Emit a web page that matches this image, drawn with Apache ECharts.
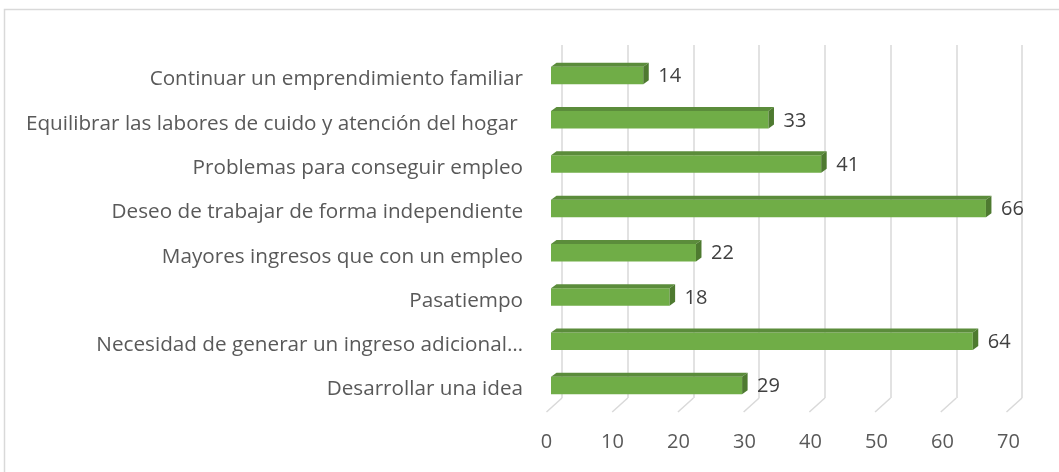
<!DOCTYPE html>
<html>
<head>
<meta charset="utf-8">
<style>
  html, body { margin: 0; padding: 0; background: #fff; }
  #chart { width: 1059px; height: 472px; }
</style>
<script src="https://cdn.jsdelivr.net/npm/echarts@6/dist/echarts.min.js"></script>
</head>
<body>
<div id="chart"></div>
<script>
const categories = [
  'Continuar un emprendimiento familiar',
  'Equilibrar las labores de cuido y atención del hogar ',
  'Problemas para conseguir empleo',
  'Deseo de trabajar de forma independiente',
  'Mayores ingresos que con un empleo',
  'Pasatiempo',
  'Necesidad de generar un ingreso adicional…',
  'Desarrollar una idea'
];
const values = [14, 33, 41, 66, 22, 18, 64, 29];
const ticks = [0, 10, 20, 30, 40, 50, 60, 70];

const font = '"Open Sans", sans-serif';
const depthX = 5.5;
const depthY = 4;

let chart = echarts.init(document.getElementById('chart'));

function renderBar(params, api) {
  const idx = api.value(1);
  const end = api.coord([api.value(0), idx]);
  const start = api.coord([0, idx]);
  const h = api.size([0, 1])[1] * 0.395;
  const x0 = start[0];
  const x1 = end[0];
  const y0 = end[1] - h / 2;
  return {
    type: 'group',
    children: [
      {
        type: 'rect',
        shape: { x: x0, y: y0, width: x1 - x0, height: h },
        style: { fill: '#70AD47' }
      },
      {
        type: 'polygon',
        shape: { points: [[x0, y0], [x0 + depthX, y0 - depthY], [x1 + depthX, y0 - depthY], [x1, y0]] },
        style: { fill: '#5B8C3B' }
      },
      {
        type: 'polygon',
        shape: { points: [[x1, y0], [x1 + depthX, y0 - depthY], [x1 + depthX, y0 + h - depthY], [x1, y0 + h]] },
        style: { fill: '#4E7A30' }
      },
      {
        type: 'text',
        style: {
          x: x1 + 15, y: end[1] + 1,
          text: String(api.value(0)),
          fill: '#404040',
          font: '20px ' + font,
          verticalAlign: 'middle',
          align: 'left'
        }
      }
    ]
  };
}

function renderFloor(params, api) {
  const p = api.coord([api.value(0), 0]);
  return {
    type: 'line',
    shape: { x1: p[0], y1: p[1], x2: p[0] - 15.5, y2: p[1] + 14 },
    style: { stroke: '#d9d9d9', lineWidth: 1.5 }
  };
}

chart.setOption({
  animation: false,
  graphic: [{
    type: 'rect',
    shape: { x: 4.5, y: 9.5, width: 1100, height: 500 },
    style: { fill: 'none', stroke: '#d9d9d9', lineWidth: 1.5 }
  }],
  grid: [
    { left: 551, top: 53.4, width: 461.3, height: 354.3 },
    { left: 562, top: 45, width: 460, height: 353 },
    { left: 546.5, top: 45, width: 462, height: 367 },
    // labels of the categories sit a little below the bar centres
    { left: 551, top: 57.4, width: 461.3, height: 354.3 }
  ],
  xAxis: [
    { gridIndex: 0, type: 'value', min: 0, max: 70, show: false },
    {
      gridIndex: 1, type: 'value', min: 0, max: 70, interval: 10,
      axisLine: { show: false },
      axisTick: { show: false },
      axisLabel: { show: false },
      splitLine: { show: true, lineStyle: { color: '#d9d9d9', width: 1.5 } }
    },
    {
      gridIndex: 2, type: 'value', min: 0, max: 70, interval: 10,
      axisLine: { show: false },
      axisTick: { show: false },
      splitLine: { show: false },
      axisLabel: {
        margin: 20,
        color: '#595959',
        fontSize: 20,
        fontFamily: font,
        formatter: (v) => (ticks.indexOf(v) >= 0 ? String(v) : '')
      }
    },
    { gridIndex: 3, type: 'value', min: 0, max: 70, show: false }
  ],
  yAxis: [
    { gridIndex: 0, type: 'category', inverse: true, data: categories, show: false },
    { gridIndex: 1, type: 'value', min: 0, max: 1, show: false },
    { gridIndex: 2, type: 'value', min: 0, max: 1, show: false },
    {
      gridIndex: 3, type: 'category', inverse: true, data: categories,
      axisLine: { show: false },
      axisTick: { show: false },
      splitLine: { show: false },
      axisLabel: {
        margin: 28,
        color: '#595959',
        fontSize: 20.7,
        fontFamily: font
      }
    }
  ],
  series: [
    {
      type: 'custom',
      xAxisIndex: 1,
      yAxisIndex: 1,
      renderItem: renderFloor,
      data: ticks.map((t) => [t]),
      silent: true
    },
    {
      type: 'custom',
      xAxisIndex: 0,
      yAxisIndex: 0,
      renderItem: renderBar,
      data: values.map((v, i) => [v, i]),
      encode: { x: 0, y: 1 }
    }
  ]
});
window.addEventListener('resize', function() {
  chart.resize();
});
</script>
</body>
</html>
